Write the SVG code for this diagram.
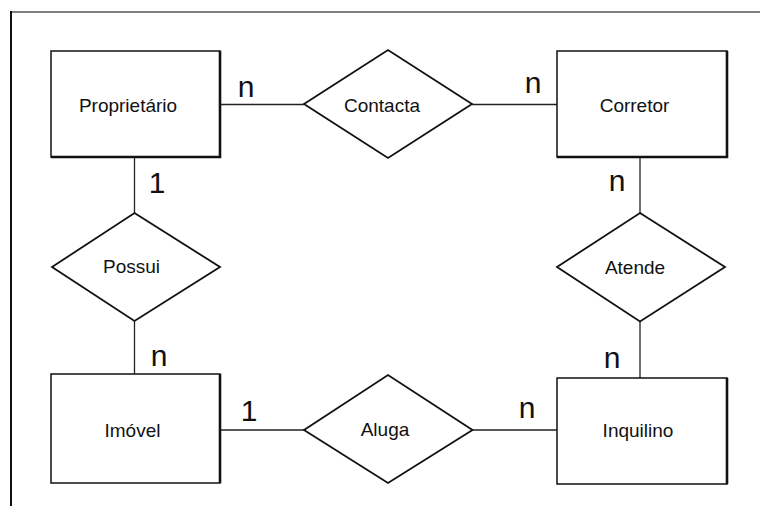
<svg xmlns="http://www.w3.org/2000/svg" width="760" height="506" viewBox="0 0 760 506">
<style>
.frame-top{stroke:#555;stroke-width:1.5;fill:none}
.frame-left{stroke:#111;stroke-width:2;fill:none}
.ent{fill:#fff;stroke:#111;stroke-width:1.5}
.shade{fill:none;stroke:#111;stroke-width:2.6}
.rel{fill:#fff;stroke:#111;stroke-width:1.8;stroke-linejoin:miter}
.conn line{stroke:#222;stroke-width:1.3}
.lbl{font-family:"Liberation Sans",Arial,sans-serif;font-size:19px;fill:#111;text-anchor:middle}
.card{font-family:"Liberation Sans",Arial,sans-serif;font-size:30px;fill:#111;text-anchor:middle}
</style>
<rect width="760" height="506" fill="#fff"/>
<line class="frame-top" x1="11" y1="12" x2="760" y2="12"/>
<line class="frame-left" x1="11" y1="11" x2="11" y2="506"/>

<g id="connectors" class="conn">
  <line x1="220" y1="104.5" x2="304" y2="104.5"/>
  <line x1="472" y1="104.5" x2="557" y2="104.5"/>
  <line x1="134.5" y1="157" x2="134.5" y2="213"/>
  <line x1="134.5" y1="321" x2="134.5" y2="374"/>
  <line x1="640" y1="157" x2="640" y2="213"/>
  <line x1="640" y1="321" x2="640" y2="378"/>
  <line x1="220" y1="430" x2="304" y2="430"/>
  <line x1="472" y1="430" x2="557" y2="430"/>
</g>

<g id="proprietario">
  <rect class="ent" x="51" y="51" width="169" height="106"/>
  <polyline class="shade" points="220,51 220,157 51,157"/>
  <text class="lbl" x="128" y="112">Proprietário</text>
</g>
<g id="corretor">
  <rect class="ent" x="557" y="51" width="170" height="106"/>
  <polyline class="shade" points="727,51 727,157 557,157"/>
  <text class="lbl" x="634.5" y="112">Corretor</text>
</g>
<g id="imovel">
  <rect class="ent" x="51" y="374" width="169" height="109"/>
  <polyline class="shade" points="220,374 220,483"/>
  <text class="lbl" x="132.5" y="437">Imóvel</text>
</g>
<g id="inquilino">
  <rect class="ent" x="557" y="378" width="170" height="106"/>
  <polyline class="shade" points="727,378 727,484"/>
  <text class="lbl" x="638" y="437">Inquilino</text>
</g>

<g id="contacta">
  <polygon class="rel" points="304,104 388,50 472,104 388,158"/>
  <text class="lbl" x="382" y="112">Contacta</text>
</g>
<g id="possui">
  <polygon class="rel" points="134.5,213 220,267 134.5,321 52,267"/>
  <text class="lbl" x="131.5" y="273">Possui</text>
</g>
<g id="atende">
  <polygon class="rel" points="640,213 725,267 640,321.5 557,267"/>
  <text class="lbl" x="635" y="274">Atende</text>
</g>
<g id="aluga">
  <polygon class="rel" points="304,430 388,375 472.5,430 388,483"/>
  <text class="lbl" x="385" y="436">Aluga</text>
</g>

<g id="cardinalities">
  <text class="card" x="246" y="97">n</text>
  <text class="card" x="533" y="93">n</text>
  <text class="card" x="157" y="193">1</text>
  <text class="card" x="159" y="366">n</text>
  <text class="card" x="617" y="191">n</text>
  <text class="card" x="612" y="368">n</text>
  <text class="card" x="249" y="421">1</text>
  <text class="card" x="527" y="418">n</text>
</g>
</svg>
